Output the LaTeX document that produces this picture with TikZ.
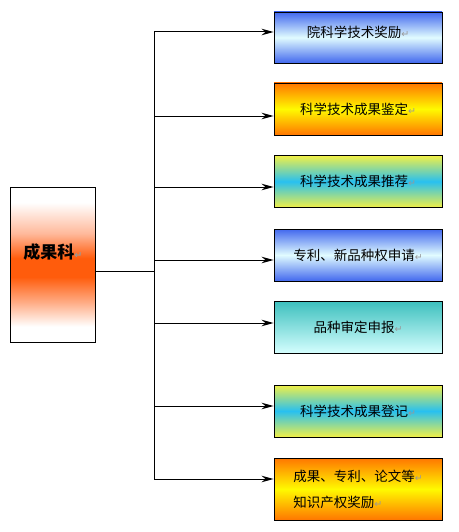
\documentclass[tikz,border=0pt]{standalone}
\usepackage{fontspec}
\newfontfamily\cjk{Noto Sans CJK SC}
\newfontfamily\symfont{DejaVu Sans}
\usetikzlibrary{arrows.meta}
\definecolor{cblue}{RGB}{66,104,238}
\definecolor{clight}{RGB}{225,252,255}
\definecolor{corange}{RGB}{255,118,0}
\definecolor{cyellow}{RGB}{255,250,0}
\definecolor{cyel2}{RGB}{242,240,70}
\definecolor{ccyan}{RGB}{40,192,240}
\definecolor{cteal}{RGB}{62,192,190}
\definecolor{cpale}{RGB}{214,255,255}
\definecolor{cred}{RGB}{255,92,12}
\definecolor{cpink}{RGB}{255,185,155}
\definecolor{cpink2}{RGB}{255,170,130}
\pgfdeclareverticalshading{leftshade}{100bp}{color(0bp)=(white); color(25bp)=(white); color(30bp)=(white); color(38bp)=(cpink2); color(46bp)=(cred); color(52bp)=(cred); color(60bp)=(cpink); color(70bp)=(white); color(75bp)=(white); color(100bp)=(white)}
\newcommand{\retmark}{{\symfont\fontsize{9.5}{10}\selectfont\color{black!40}↵}}
\begin{document}
\begin{tikzpicture}[x=1pt,y=-1pt,
  box/.style={draw=black, line width=0.9pt, minimum width=168pt, minimum height=51pt,
    inner sep=0pt, font=\cjk\fontsize{13.5}{16}\selectfont},
  bluebox/.style={box, top color=cblue, bottom color=cblue, middle color=clight},
  orangebox/.style={box, top color=corange, bottom color=corange, middle color=cyellow},
  cyanbox/.style={box, top color=cyel2, bottom color=cyel2, middle color=ccyan},
  tealbox/.style={box, top color=cteal, bottom color=cpale},
  conn/.style={line width=1pt, draw=black},
  arr/.style={conn, -{Stealth[length=12pt,width=6.5pt]}}
]
\useasboundingbox (0,0) rectangle (458,532);

\node[draw=black, line width=0.9pt, minimum width=84.5pt, minimum height=155pt, inner sep=0pt,
  shading=leftshade,
  font=\cjk\bfseries\fontsize{17}{20}\selectfont, text height=15pt, text depth=27pt]
  (L) at (52.75,264.5) {成果科\retmark};

\node[bluebox, minimum height=51pt, text height=12pt, text depth=12.8pt] (b1) at (358,37.5) {院科学技术奖励\retmark};
\node[orangebox, minimum height=52pt] (b2) at (358,109) {科学技术成果鉴定\retmark};
\node[cyanbox, minimum height=52pt] (b3) at (358,181.5) {科学技术成果推荐\retmark};
\node[bluebox, minimum height=52pt] (b4) at (358,255) {专利、新品种权申请\retmark};
\node[tealbox, minimum height=52pt] (b5) at (358,327.5) {品种审定申报\retmark};
\node[cyanbox, minimum height=52pt] (b6) at (358,411) {科学技术成果登记\retmark};
\node[orangebox, minimum height=62pt, align=left, font=\cjk\fontsize{13.5}{26}\selectfont] (b7) at (358,489)
  {成果、专利、论文等\retmark\\知识产权奖励\retmark};

\coordinate (j0) at (154,271);
\coordinate (j1) at (154,32);
\coordinate (j2) at (154,116);
\coordinate (j3) at (154,187);
\coordinate (j4) at (154,260);
\coordinate (j5) at (154,323);
\coordinate (j6) at (154,406);
\coordinate (j7) at (154,479);

\draw[conn] (L.east |- j0) -- (j0);
\draw[conn] (j1) -- (j7);
\draw[arr] (j1) -- (j1 -| b1.west);
\draw[arr] (j2) -- (j2 -| b2.west);
\draw[arr] (j3) -- (j3 -| b3.west);
\draw[arr] (j4) -- (j4 -| b4.west);
\draw[arr] (j5) -- (j5 -| b5.west);
\draw[arr] (j6) -- (j6 -| b6.west);
\draw[arr] (j7) -- (j7 -| b7.west);
\end{tikzpicture}
\end{document}
